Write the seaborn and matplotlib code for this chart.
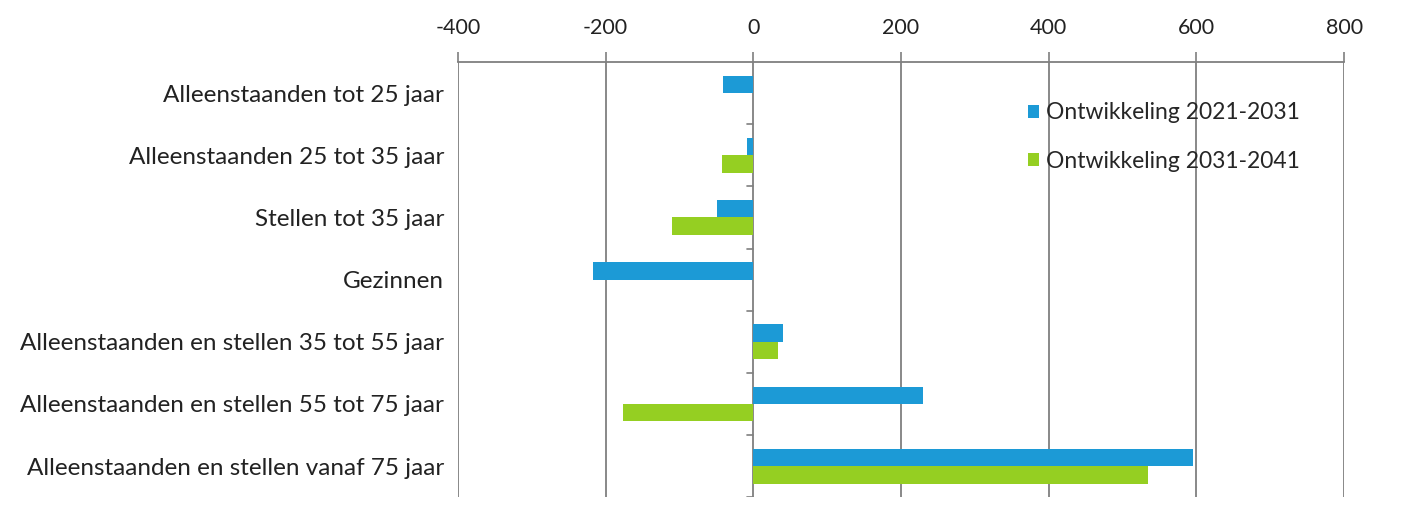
import matplotlib
matplotlib.use("Agg")
import matplotlib.pyplot as plt
import seaborn as sns
import pandas as pd
from matplotlib.patches import Patch

# Data
categories = [
    "Alleenstaanden tot 25 jaar",
    "Alleenstaanden 25 tot 35 jaar",
    "Stellen tot 35 jaar",
    "Gezinnen",
    "Alleenstaanden en stellen 35 tot 55 jaar",
    "Alleenstaanden en stellen 55 tot 75 jaar",
    "Alleenstaanden en stellen vanaf 75 jaar",
]
series = ["Ontwikkeling 2021-2031", "Ontwikkeling 2031-2041"]
dev_2021_2031 = [-41, -8, -49, -217, 40, 230, 596]
dev_2031_2041 = [0, -42, -110, 0, 33, -177, 535]
xticks = [-400, -200, 0, 200, 400, 600, 800]

colors = ["#1C9AD6", "#95CF22"]

df = pd.DataFrame({
    "categorie": categories * 2,
    "reeks": [series[0]] * len(categories) + [series[1]] * len(categories),
    "waarde": dev_2021_2031 + dev_2031_2041,
})

sns.set_style("white")
plt.rcParams["font.family"] = ["Lato", "DejaVu Sans"]
plt.rcParams["axes.unicode_minus"] = False

fig = plt.figure(figsize=(14.03, 5.19), dpi=100)
ax = fig.add_axes([0.3264, 0.042, 0.6316, 0.8385])

sns.barplot(data=df, y="categorie", x="waarde", hue="reeks", orient="h",
            palette=colors, width=0.56, ax=ax, legend=False, saturation=1,
            linewidth=0)

ax.set_xlim(xticks[0], xticks[-1])
ax.set_ylim(len(categories) - 0.5, -0.5)
ax.set_xticks(xticks)
ax.xaxis.tick_top()
ax.tick_params(axis="x", direction="out", length=7, width=1.2, color="#7f7f7f",
               labelsize=15.5, pad=10, labelcolor="#222222")
ax.tick_params(axis="y", length=0, labelsize=17.5, pad=10, labelcolor="#222222")
ax.set_xlabel("")
ax.set_ylabel("")

for t in xticks:
    ax.axvline(t, color="#7f7f7f", lw=1.3, zorder=0)

# small category ticks on the zero line
for b in range(len(categories)):
    ax.plot([-8, 0], [b + 0.5, b + 0.5], color="#7f7f7f", lw=1.2, zorder=0)

for s in ["left", "right", "bottom"]:
    ax.spines[s].set_visible(False)
ax.spines["top"].set_color("#7f7f7f")
ax.spines["top"].set_linewidth(1.3)

handles = [Patch(facecolor=c, edgecolor="none") for c in colors]
ax.legend(handles, series, loc="upper left", bbox_to_anchor=(0.62, 0.955),
          frameon=False, fontsize=16.5, handlelength=0.5, handleheight=0.5,
          handletextpad=0.3, labelspacing=1.2)

fig.savefig("out.png", dpi=100)
